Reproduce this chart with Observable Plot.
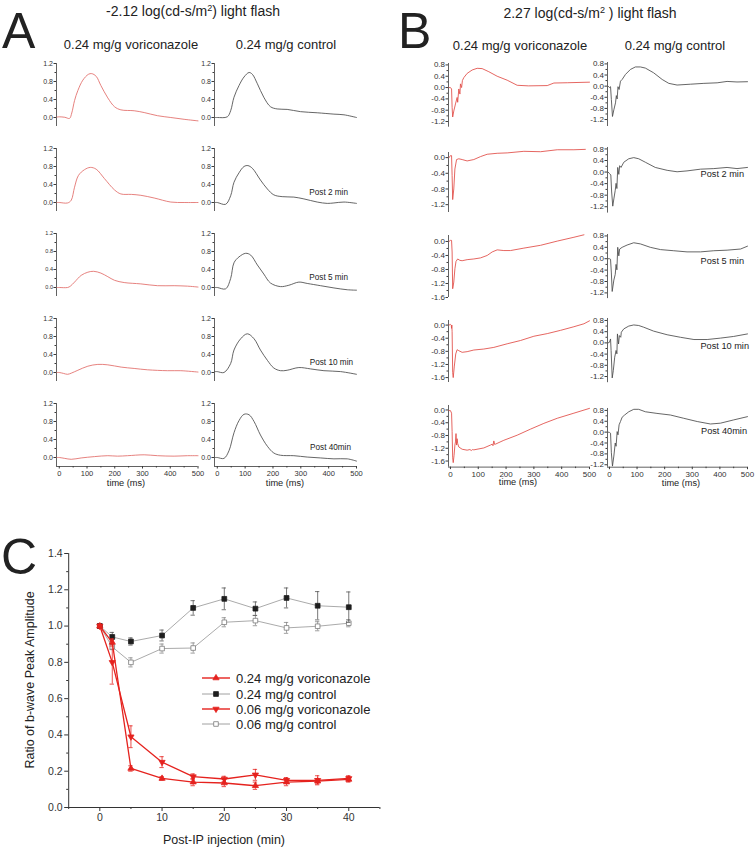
<!DOCTYPE html>
<html><head><meta charset="utf-8">
<script src="https://cdn.jsdelivr.net/npm/d3@7"></script>
<script src="https://cdn.jsdelivr.net/npm/@observablehq/plot@0.6"></script>
<style>
html,body{margin:0;padding:0;background:#fff;}
#fig{position:relative;width:756px;height:847px;overflow:hidden;font-family:"Liberation Sans",Arial,sans-serif;color:#222;background:#fff;}
.t{position:absolute;white-space:nowrap;line-height:1;}
</style></head><body><div id="fig"></div>
<script>
// ---------------- DATA ----------------
// Panel A: -2.12 log(cd-s/m2) flash, [time ms, amplitude]
const aVori0 = [[-8,0.01],[0,0.015],[20,0.005],[37,-0.02],[45,0.1],[55,0.375],[67,0.6],[85,0.83],[105,0.96],[117,0.975],[133,0.915],[150,0.71],[175,0.435],[199,0.24],[222,0.17],[270,0.15],[306,0.11],[354,0.04],[402,0.0],[450,-0.04],[500,-0.075]];
const aVori1 = [[-8,0.0],[0,0.0],[30,-0.01],[43,0.05],[55,0.34],[69,0.6],[91,0.73],[112,0.78],[133,0.74],[163,0.53],[199,0.28],[222,0.19],[260,0.18],[294,0.16],[342,0.1],[402,0.01],[450,0.0],[500,0.0]];
const aVori2 = [[-8,0.0],[0,0.0],[30,0.0],[40,0.03],[55,0.12],[79,0.27],[103,0.34],[124,0.36],[150,0.32],[175,0.24],[199,0.16],[234,0.11],[294,0.08],[354,0.04],[414,0.04],[462,0.03],[500,0.01]];
const aVori3 = [[-8,0.0],[0,0.0],[15,-0.02],[30,-0.04],[45,-0.01],[67,0.05],[103,0.14],[139,0.18],[175,0.17],[223,0.12],[270,0.09],[318,0.06],[390,0.04],[438,0.04],[500,0.01]];
const aVori4 = [[-8,0.0],[0,0.0],[20,-0.02],[43,-0.04],[79,-0.01],[127,0.02],[175,0.04],[210,0.03],[246,0.04],[306,0.06],[354,0.04],[414,0.03],[462,0.04],[500,0.04]];
const aCtrl0 = [[-8,0.0],[0,0.0],[36,0.015],[48,0.15],[60,0.45],[78,0.71],[96,0.9],[114,1.0],[126,0.96],[144,0.75],[167,0.45],[191,0.24],[215,0.19],[251,0.18],[299,0.13],[359,0.105],[419,0.075],[455,0.06],[500,0.0]];
const aCtrl1 = [[-8,0.0],[0,0.0],[30,-0.04],[48,0.15],[60,0.45],[78,0.66],[96,0.8],[110,0.82],[126,0.76],[155,0.5],[180,0.3],[203,0.17],[233,0.13],[275,0.12],[311,0.08],[359,0.01],[395,-0.02],[419,-0.01],[455,0.01],[500,-0.02]];
const aCtrl2 = [[-8,0.0],[0,0.0],[30,-0.03],[48,0.2],[60,0.55],[78,0.68],[102,0.76],[120,0.72],[144,0.5],[167,0.3],[191,0.1],[227,0.02],[257,0.05],[293,0.12],[323,0.09],[371,0.04],[419,-0.01],[467,-0.05],[500,-0.06]];
const aCtrl3 = [[-8,0.02],[0,0.02],[24,0.0],[48,0.2],[60,0.5],[84,0.75],[108,0.86],[132,0.75],[155,0.5],[180,0.27],[203,0.1],[227,0.04],[251,0.05],[293,0.11],[335,0.08],[383,0.04],[443,0.02],[500,-0.04]];
const aCtrl4 = [[-8,0.0],[0,0.0],[24,-0.02],[42,0.15],[60,0.55],[78,0.82],[96,0.96],[114,0.95],[132,0.8],[155,0.5],[180,0.25],[203,0.1],[227,0.05],[275,0.04],[323,0.01],[371,-0.01],[419,-0.03],[467,-0.03],[500,-0.08]];

// Panel B: 2.27 log(cd-s/m2) flash
const bVori0 = [[-5,0.0],[0,0.0],[4,-0.05],[6,-0.7],[8,-1.04],[12,-0.83],[18,-0.58],[24,-0.35],[26,-0.52],[30,-0.05],[34,-0.23],[36,0.13],[40,0.0],[43,0.25],[48,0.35],[60,0.5],[78,0.62],[96,0.68],[114,0.67],[138,0.56],[168,0.4],[204,0.26],[240,0.08],[280,0.06],[348,0.07],[372,0.16],[420,0.17],[500,0.19]];
const bVori1 = [[-5,0.0],[0,0.05],[4,0.05],[6,-0.46],[8,-1.07],[12,-0.8],[16,-0.29],[22,-0.05],[30,-0.03],[42,-0.05],[60,-0.085],[84,-0.05],[108,0.025],[132,0.085],[168,0.11],[204,0.12],[264,0.16],[324,0.15],[384,0.2],[444,0.2],[485,0.21]];
const bVori2 = [[-5,0.0],[0,0.03],[4,0.03],[6,-0.3],[8,-1.35],[12,-1.16],[16,-0.78],[20,-0.57],[26,-0.5],[34,-0.54],[42,-0.55],[60,-0.52],[84,-0.5],[108,-0.47],[132,-0.4],[150,-0.3],[168,-0.24],[192,-0.26],[216,-0.26],[264,-0.19],[324,-0.11],[384,0.01],[444,0.12],[480,0.19]];
const bVori3 = [[-5,0.0],[0,0.02],[3,0.0],[4,-0.1],[5,0.0],[6,-0.2],[8,-1.45],[10,-1.6],[14,-1.25],[19,-0.88],[24,-0.75],[30,-0.78],[42,-0.83],[60,-0.81],[84,-0.76],[120,-0.73],[156,-0.68],[204,-0.57],[252,-0.47],[300,-0.34],[348,-0.26],[396,-0.16],[444,-0.05],[480,0.04],[500,0.13]];
const bVori4 = [[-5,-0.02],[0,-0.02],[4,-0.1],[6,-0.68],[8,-1.5],[10,-1.65],[13,-1.42],[16,-1.1],[18,-1.0],[20,-0.74],[22,-1.1],[24,-0.9],[26,-1.05],[30,-1.16],[42,-1.23],[60,-1.26],[70,-1.24],[75,-1.27],[80,-1.24],[84,-1.25],[120,-1.19],[144,-1.1],[150,-1.07],[153,-1.12],[156,-0.97],[159,-1.08],[162,-1.07],[192,-0.95],[240,-0.79],[288,-0.6],[336,-0.42],[384,-0.26],[444,-0.1],[500,0.05]];
const bCtrl0 = [[-5,0.0],[0,-0.05],[4,-0.02],[7,-0.48],[11,-1.09],[16,-0.85],[22,-0.6],[25,-0.34],[28,-0.46],[31,-0.02],[35,-0.12],[40,0.18],[46,0.24],[58,0.42],[76,0.6],[94,0.69],[112,0.69],[130,0.65],[160,0.48],[191,0.24],[215,0.1],[245,0.04],[293,0.07],[342,0.1],[390,0.12],[426,0.17],[462,0.15],[500,0.16]];
const bCtrl1 = [[-5,0.0],[0,-0.05],[5,-0.1],[8,-0.69],[12,-1.18],[16,-0.93],[21,-0.63],[24,-0.39],[27,-0.57],[30,0.16],[34,-0.08],[37,0.22],[42,0.16],[52,0.34],[70,0.46],[88,0.5],[106,0.46],[130,0.34],[166,0.16],[209,0.06],[245,0.01],[281,0.04],[330,0.1],[378,0.12],[426,0.16],[462,0.12],[500,0.16]];
const bCtrl2 = [[-5,0.0],[0,0.0],[4,-0.02],[7,-0.5],[10,-1.15],[16,-0.75],[21,-0.55],[24,-0.2],[27,-0.39],[30,0.4],[34,0.1],[37,0.34],[46,0.4],[64,0.48],[88,0.56],[112,0.52],[148,0.4],[185,0.32],[233,0.28],[281,0.24],[330,0.24],[378,0.28],[426,0.3],[475,0.34],[500,0.44]];
const bCtrl3 = [[-5,0.0],[0,0.02],[4,0.14],[6,-0.27],[10,-1.25],[14,-0.99],[19,-0.51],[24,-0.27],[27,-0.39],[29,0.32],[33,-0.04],[36,0.26],[41,0.2],[43,0.38],[52,0.5],[70,0.6],[88,0.64],[106,0.62],[124,0.56],[160,0.42],[209,0.29],[257,0.2],[306,0.12],[354,0.12],[402,0.17],[450,0.23],[500,0.32]];
const bCtrl4 = [[-5,0.0],[0,-0.01],[4,-0.04],[7,-0.76],[11,-1.25],[16,-0.88],[21,-0.4],[24,-0.52],[28,0.02],[31,-0.1],[35,0.27],[40,0.39],[46,0.55],[55,0.63],[70,0.75],[88,0.84],[106,0.84],[130,0.75],[172,0.69],[221,0.63],[269,0.51],[318,0.39],[366,0.3],[402,0.33],[450,0.45],[500,0.57]];

// Panel C: ratio of b-wave peak amplitude
const cTime = [0, 2, 5, 10, 15, 20, 25, 30, 35, 40];
const cVori24 = [1.0, 0.91, 0.215, 0.16, 0.14, 0.135, 0.12, 0.14, 0.145, 0.155];
const cVori24Err = [0.01, 0.02, 0.015, 0.01, 0.02, 0.02, 0.02, 0.02, 0.015, 0.015];
const cCtrl24 = [1.0, 0.94, 0.915, 0.948, 1.1, 1.15, 1.096, 1.155, 1.112, 1.104];
const cCtrl24Err = [0.01, 0.025, 0.02, 0.03, 0.04, 0.06, 0.037, 0.055, 0.078, 0.084];
const cVori06 = [1.0, 0.80, 0.39, 0.25, 0.17, 0.157, 0.18, 0.15, 0.15, 0.16];
const cVori06Err = [0.01, 0.12, 0.06, 0.03, 0.015, 0.015, 0.03, 0.015, 0.025, 0.015];
const cCtrl06 = [1.0, 0.885, 0.80, 0.876, 0.879, 1.021, 1.03, 0.99, 0.999, 1.016];
const cCtrl06Err = [0.01, 0.015, 0.025, 0.025, 0.028, 0.025, 0.028, 0.03, 0.025, 0.02];

// Tick values
const aYTicks = [0, 0.4, 0.8, 1.2];
const bYTicksFull = [0.8, 0.4, 0, -0.4, -0.8, -1.2];
const bYTicksNeg = [0, -0.4, -0.8, -1.2];
const bYTicksNeg16 = [0, -0.4, -0.8, -1.2, -1.6];
const timeTicks = [0, 100, 200, 300, 400, 500];
const cYTicks = [0, 0.2, 0.4, 0.6, 0.8, 1.0, 1.2, 1.4];
const cXTicks = [0, 10, 20, 30, 40];

// ---------------- LAYOUT / DRAWING ----------------
const fig = document.getElementById("fig");
const AX = "#3a3a3a";
const RED_A = "#e26c68", RED_B = "#e04a44", GRAY_TR = "#4a4a4a";
const fmt1 = d => (Math.abs(d) < 1e-9 ? 0 : d).toFixed(1);
const mids = t => { const s = [...t].sort((a,b)=>a-b); const out=[]; for (let i=0;i<s.length-1;i++) out.push((s[i]+s[i+1])/2); return out; };

function txt(html, x, y, size, anchor = "middle", rot = 0) {
  const d = document.createElement("div");
  d.className = "t"; d.innerHTML = html;
  d.style.left = x + "px"; d.style.top = y + "px"; d.style.fontSize = size + "px";
  const tx = anchor === "middle" ? "-50%" : anchor === "end" ? "-100%" : "0";
  d.style.transform = `translate(${tx},-50%)` + (rot ? ` rotate(${rot}deg)` : "");
  fig.appendChild(d);
}
function place(svg, left, top) {
  svg.style.position = "absolute"; svg.style.left = left + "px"; svg.style.top = top + "px";
  fig.appendChild(svg);
}
const baseStyle = {fontFamily: "'Liberation Sans', Arial, sans-serif", fontSize: "7px", background: "transparent", overflow: "visible", color: "#333"};

function trace(g, data, color, smooth) {
  const mL = 30, mR = 6, mT = 4, mB = g.xAxis ? 30 : 4;
  const w = g.x1 - g.x0, h = g.bot - g.top;
  const marks = [
    Plot.axisY({ticks: mids(g.ticks), tickSize: 1.5, tickFormat: () => "", stroke: AX, label: null}),
    Plot.axisY({ticks: g.ticks, tickSize: 2.5, tickPadding: 1, tickFormat: fmt1, fontSize: g.fs, fill: "#333", stroke: AX, label: null}),
    Plot.ruleX([g.xDomain[0]], {stroke: AX, strokeWidth: 0.8}),
    Plot.line(data, {x: d => d[0], y: d => d[1], stroke: color, strokeWidth: 0.85, curve: smooth ? "catmull-rom" : "linear"})
  ];
  if (g.xAxis) marks.push(
    Plot.ruleY([g.yDomain[0]], {stroke: AX, strokeWidth: 0.8}),
    Plot.axisX({ticks: mids(timeTicks), tickSize: 1.5, tickFormat: () => "", stroke: AX, label: null}),
    Plot.axisX({ticks: timeTicks, tickSize: 2.5, tickPadding: 1.5, fontSize: g.xfs, fill: "#333", stroke: AX, label: null, tickFormat: d => String(d)})
  );
  const svg = Plot.plot({
    width: w + mL + mR, height: h + mT + mB,
    marginLeft: mL, marginRight: mR, marginTop: mT, marginBottom: mB,
    x: g.xAxis ? {domain: g.xDomain} : {domain: g.xDomain, axis: null},
    y: {domain: g.yDomain},
    style: baseStyle,
    marks
  });
  place(svg, g.x0 - mL, g.top - mT);
}

// Panel A
const aVori = [aVori0, aVori1, aVori2, aVori3, aVori4];
const aCtrl = [aCtrl0, aCtrl1, aCtrl2, aCtrl3, aCtrl4];
const aTops = [63, 148, 233, 318, 403];
aTops.forEach((top, i) => {
  const common = {top, bot: top + 63, yDomain: [-0.2, 1.2], xDomain: [-10, 500], ticks: aYTicks, xAxis: i === 4, xfs: 7.5};
  trace({...common, x0: 55.5, x1: 197, fs: i === 2 ? 5.5 : 7}, aVori[i], RED_A, true);
  trace({...common, x0: 214, x1: 356, fs: 7}, aCtrl[i], GRAY_TR, true);
});

// Panel B
const bVori = [bVori0, bVori1, bVori2, bVori3, bVori4];
const bCtrl = [bCtrl0, bCtrl1, bCtrl2, bCtrl3, bCtrl4];
const bLeftGeom = [
  {dom: [-1.4, 0.85], top: 62.6, bot: 126.3, ticks: bYTicksFull},
  {dom: [-1.4, 0.13], top: 151.9, bot: 211.9, ticks: bYTicksNeg},
  {dom: [-1.6, 0.17], top: 235, bot: 297, ticks: bYTicksNeg16},
  {dom: [-1.75, 0.14], top: 319.9, bot: 381.9, ticks: bYTicksNeg16},
  {dom: [-1.79, 0.14], top: 405, bot: 466.6, ticks: bYTicksNeg16}
];
const bRightGeom = [
  {dom: [-1.45, 0.85], top: 61.9, bot: 125.9},
  {dom: [-1.42, 0.85], top: 146.6, bot: 212.2},
  {dom: [-1.4, 0.85], top: 233.6, bot: 297.7},
  {dom: [-1.42, 0.87], top: 318, bot: 382.2},
  {dom: [-1.29, 0.87], top: 408.1, bot: 466.8}
];
for (let i = 0; i < 5; i++) {
  const L = bLeftGeom[i], R = bRightGeom[i];
  trace({x0: 448, x1: 589, top: L.top, bot: L.bot, xDomain: [-7, 500], yDomain: L.dom, ticks: L.ticks, fs: 8, xfs: 8, xAxis: i === 4}, bVori[i], RED_B, false);
  trace({x0: 607, x1: 747, top: R.top, bot: R.bot, xDomain: [-7, 500], yDomain: R.dom, ticks: bYTicksFull, fs: 8, xfs: 8, xAxis: i === 4}, bCtrl[i], GRAY_TR, false);
}

// Panel C
const RED_C = "#e5221e";
const cSeries = [
  {name: "0.24 mg/g voriconazole", vals: cVori24, err: cVori24Err, line: RED_C, sym: "triangle", fill: RED_C, stroke: RED_C, rot: 0, r: 2.3, ebar: RED_C},
  {name: "0.24 mg/g control", vals: cCtrl24, err: cCtrl24Err, line: "#a0a0a0", sym: "square", fill: "#1e1e1e", stroke: "#1e1e1e", rot: 0, r: 2.7, ebar: "#555"},
  {name: "0.06 mg/g voriconazole", vals: cVori06, err: cVori06Err, line: RED_C, sym: "triangle", fill: RED_C, stroke: RED_C, rot: 180, r: 2.3, ebar: RED_C},
  {name: "0.06 mg/g control", vals: cCtrl06, err: cCtrl06Err, line: "#a0a0a0", sym: "square", fill: "#fff", stroke: "#7a7a7a", rot: 0, r: 2.6, ebar: "#888"}
];
const cMarks = [
  Plot.axisY({ticks: mids(cYTicks), tickSize: 2, tickFormat: () => "", stroke: "#333", label: null}),
  Plot.axisY({ticks: cYTicks, tickSize: 4, tickPadding: 2, tickFormat: fmt1, fontSize: 10.5, fill: "#333", stroke: "#333", label: null}),
  Plot.axisX({ticks: [-5, 5, 15, 25, 35, 45], tickSize: 2, tickFormat: () => "", stroke: "#333", label: null}),
  Plot.axisX({ticks: cXTicks, tickSize: 4, tickPadding: 2, tickFormat: d => String(d), fontSize: 10.5, fill: "#333", stroke: "#333", label: null}),
  Plot.ruleX([-5], {stroke: "#333", strokeWidth: 1}),
  Plot.ruleY([0], {stroke: "#333", strokeWidth: 1})
];
const cOrder = [3, 1, 2, 0];
cOrder.forEach(k => {
  const s = cSeries[k];
  const rows = cTime.map((t, i) => ({t, v: s.vals[i], e: s.err[i]}));
  cMarks.push(Plot.line(rows, {x: "t", y: "v", stroke: s.line, strokeWidth: s.line === RED_C ? 1.3 : 0.9}));
  cMarks.push(Plot.ruleX(rows, {x: "t", y1: d => d.v - d.e, y2: d => d.v + d.e, stroke: s.ebar, strokeWidth: 0.8}));
  cMarks.push(Plot.ruleY(rows, {y: d => d.v + d.e, x1: d => d.t - 0.35, x2: d => d.t + 0.35, stroke: s.ebar, strokeWidth: 0.8}));
  cMarks.push(Plot.ruleY(rows, {y: d => d.v - d.e, x1: d => d.t - 0.35, x2: d => d.t + 0.35, stroke: s.ebar, strokeWidth: 0.8}));
  cMarks.push(Plot.dot(rows, {x: "t", y: "v", symbol: s.sym, r: s.r, fill: s.fill, stroke: s.stroke, strokeWidth: 0.8, rotate: s.rot}));
});
const cW = 392, cH = 300, cTop = 540;
const cPlot = Plot.plot({
  width: cW, height: cH,
  marginLeft: 68.2, marginRight: cW - 379.4, marginTop: 553 - cTop, marginBottom: cTop + cH - 807,
  x: {domain: [-5, 45]},
  y: {domain: [0, 1.4]},
  style: {...baseStyle, fontSize: "10px"},
  marks: cMarks
});
place(cPlot, 0, cTop);

// Legend for C
const lg = d3.select(fig).append("svg")
  .attr("width", 200).attr("height", 66)
  .style("position", "absolute").style("left", "196px").style("top", "668px").style("overflow", "visible");
const lgY = [10, 26, 41, 56];
cSeries.forEach((s, i) => {
  const y = lgY[i];
  lg.append("line").attr("x1", 6).attr("x2", 34).attr("y1", y).attr("y2", y)
    .attr("stroke", s.line).attr("stroke-width", s.line === RED_C ? 1.4 : 1);
  const type = s.sym === "square" ? d3.symbolSquare : d3.symbolTriangle;
  lg.append("path").attr("d", d3.symbol().type(type).size(Math.PI * s.r * s.r)())
    .attr("transform", `translate(20,${y}) rotate(${s.rot})`)
    .attr("fill", s.fill).attr("stroke", s.stroke).attr("stroke-width", 0.8);
  lg.append("text").attr("x", 40).attr("y", y).attr("dy", "0.36em")
    .attr("font-family", "'Liberation Sans', Arial, sans-serif").attr("font-size", 13).attr("fill", "#222")
    .text(s.name);
});

// ---------------- TEXT ----------------
const sup2 = '<span style="font-size:0.65em;position:relative;top:-0.5em">2</span>';
txt("A", 2, 31, 50, "start");
txt("B", 398, 31, 50, "start");
txt("C", 1, 557, 50, "start");
txt("-2.12 log(cd-s/m" + sup2 + ") light flash", 193, 11, 14);
txt("2.27 log(cd-s/m" + sup2 + " ) light flash", 590, 13, 14);
txt("0.24 mg/g voriconazole", 131, 44, 13);
txt("0.24 mg/g control", 286, 44, 13);
txt("0.24 mg/g voriconazole", 520, 45, 13);
txt("0.24 mg/g control", 675, 45, 13);
const aPost = [["Post 2 min", 348, 193], ["Post 5 min", 348, 278], ["Post 10 min", 353, 363], ["Post 40min", 351, 448]];
aPost.forEach(([s, x, y]) => txt(s, x, y, 8.2, "end"));
const bPost = [["Post 2 min", 744, 175], ["Post 5 min", 744, 262], ["Post 10 min", 749, 347], ["Post 40min", 747, 432]];
bPost.forEach(([s, x, y]) => txt(s, x, y, 9.2, "end"));
txt("time (ms)", 126, 484, 9.2);
txt("time (ms)", 285, 484, 9.2);
txt("time (ms)", 518, 483, 9.2);
txt("time (ms)", 681, 484, 9.2);
txt("Post-IP injection (min)", 224, 840, 12.5);
txt("Ratio of b-wave Peak Amplitude", 30, 680, 12.5, "middle", -90);
</script></body></html>
